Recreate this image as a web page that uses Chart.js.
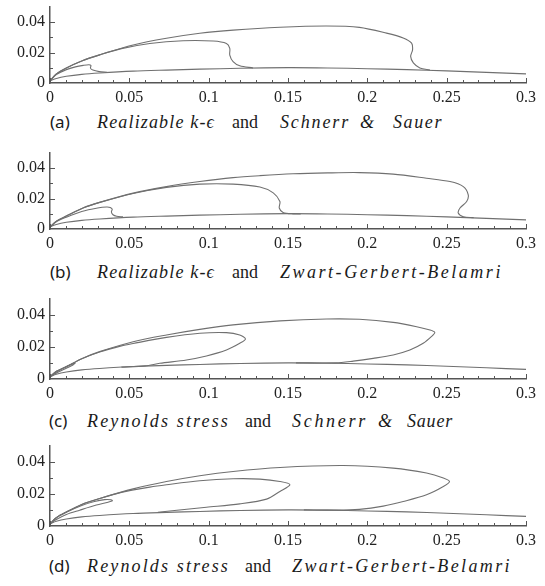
<!DOCTYPE html>
<html><head><meta charset="utf-8">
<script src="https://cdn.jsdelivr.net/npm/chart.js@4.4.1/dist/chart.umd.min.js"></script>
<style>
body{margin:0;background:#fff;}
#wrap{position:relative;width:545px;height:586px;overflow:hidden;background:#fff;}
canvas{position:absolute;left:0;}
.cap{position:absolute;height:22px;line-height:22px;white-space:nowrap;color:#1a1a1a;}
.lab{font-family:'Noto Sans';font-size:17px;}
.it{font-family:'Liberation Serif';font-style:italic;font-size:18px;}
.rm{font-family:'Liberation Serif';font-size:18px;}
</style></head><body><div id="wrap">
<div class="cap lab" style="left:50px;top:110.5px">(a)</div>
<div class="cap it" data-w="118" style="left:97px;top:110.5px">Realizable k-ϵ</div>
<div class="cap rm" style="left:232px;top:110.5px">and</div>
<div class="cap it" data-w="70" style="left:280px;top:110.5px">Schnerr</div>
<div class="cap it" data-w="16" style="left:360px;top:110.5px">&amp;</div>
<div class="cap it" data-w="50" style="left:393px;top:110.5px">Sauer</div>

<div class="cap lab" style="left:50px;top:261px">(b)</div>
<div class="cap it" data-w="118" style="left:97px;top:261px">Realizable k-ϵ</div>
<div class="cap rm" style="left:232px;top:261px">and</div>
<div class="cap it" data-w="223" style="left:280px;top:261px">Zwart-Gerbert-Belamri</div>

<div class="cap lab" style="left:49px;top:410px">(c)</div>
<div class="cap it" data-w="143" style="left:87px;top:410px">Reynolds stress</div>
<div class="cap rm" style="left:245px;top:410px">and</div>
<div class="cap it" data-w="76" style="left:292px;top:410px">Schnerr</div>
<div class="cap it" data-w="15" style="left:378px;top:410px">&amp;</div>
<div class="cap it" data-w="46" style="left:407px;top:410px">Sauer</div>

<div class="cap lab" style="left:49px;top:555px">(d)</div>
<div class="cap it" data-w="143" style="left:87px;top:555px">Reynolds stress</div>
<div class="cap rm" style="left:245px;top:555px">and</div>
<div class="cap it" data-w="220" style="left:292px;top:555px">Zwart-Gerbert-Belamri</div>
</div>
<script>
// ---------- axis ticks ----------
const xTickValues = [0, 0.05, 0.1, 0.15, 0.2, 0.25, 0.3];
const xTickLabels = ["0", "0.05", "0.1", "0.15", "0.2", "0.25", "0.3"];
const xMinorValues = [0.01,0.02,0.03,0.04,0.06,0.07,0.08,0.09,0.11,0.12,0.13,0.14,0.16,0.17,0.18,0.19,0.21,0.22,0.23,0.24,0.26,0.27,0.28,0.29];
const yTickValues = [0, 0.02, 0.04];
const yTickLabels = ["0", "0.02", "0.04"];
const yMinorValues = [0.01, 0.03];

// ---------- hydrofoil suction side (shared) ----------
const foil = [[0,0.0014],[0.004,0.003],[0.0103,0.0044],[0.02,0.0057],[0.0313,0.0066],[0.0524,0.0078],[0.0734,0.0085],[0.0944,0.0091],[0.12,0.0097],[0.15,0.0101],[0.175,0.0099],[0.2,0.0094],[0.225,0.0088],[0.25,0.008],[0.275,0.007],[0.3,0.006]];

// ---------- (a) Realizable k-e + Schnerr & Sauer ----------
const aOuter = [[0,0.0014],[0.004,0.006],[0.0103,0.0099],[0.02,0.0145],[0.0313,0.0185],[0.0524,0.025],[0.0734,0.0294],[0.0944,0.0327],[0.1154,0.0348],[0.145,0.0367],[0.1743,0.0375],[0.195,0.0366],[0.2121,0.0328],[0.2226,0.0296],[0.2279,0.0262],[0.2285,0.0218],[0.2273,0.0175],[0.229,0.0132],[0.2331,0.0099],[0.2395,0.0085]];
const aMid = [[0,0.0014],[0.004,0.006],[0.0103,0.0099],[0.02,0.0145],[0.0313,0.0185],[0.045,0.0226],[0.0629,0.026],[0.0839,0.0278],[0.1028,0.0276],[0.1112,0.026],[0.1133,0.0228],[0.1133,0.0184],[0.1154,0.0141],[0.1196,0.0113],[0.128,0.0099]];
const aSmall = [[0,0.0014],[0.004,0.0055],[0.0103,0.0088],[0.016,0.0106],[0.021,0.0116],[0.0245,0.012],[0.0258,0.0115],[0.0255,0.0098],[0.027,0.0085],[0.031,0.0075],[0.036,0.0071]];

// ---------- (b) Realizable k-e + Zwart-Gerbert-Belamri ----------
const bOuter = [[0,0.0013],[0.004,0.0052],[0.0103,0.0085],[0.0208,0.0138],[0.0313,0.0175],[0.0524,0.0236],[0.0734,0.0279],[0.0944,0.0312],[0.1154,0.0338],[0.1323,0.0351],[0.1532,0.0363],[0.175,0.0369],[0.195,0.0371],[0.2163,0.0361],[0.2373,0.0334],[0.2521,0.0312],[0.2605,0.0279],[0.2636,0.0225],[0.2626,0.0181],[0.2584,0.0138],[0.2573,0.0105],[0.2605,0.0081],[0.267,0.0075]];
const bMid = [[0,0.0013],[0.004,0.0052],[0.0103,0.0085],[0.0208,0.0138],[0.0313,0.0175],[0.0524,0.0234],[0.0734,0.0274],[0.0944,0.0295],[0.1154,0.0295],[0.1323,0.0276],[0.1407,0.0238],[0.1449,0.0181],[0.1445,0.0138],[0.1469,0.0109],[0.1532,0.0099],[0.158,0.0099]];
const bSmall = [[0,0.0013],[0.004,0.0048],[0.0103,0.0078],[0.02,0.0115],[0.03,0.0138],[0.0356,0.0145],[0.038,0.0142],[0.0392,0.013],[0.0387,0.0112],[0.0397,0.0094],[0.042,0.0084],[0.046,0.008]];

// ---------- (c) Reynolds stress + Schnerr & Sauer ----------
const cOuter = [[0,0.0014],[0.004,0.0048],[0.0103,0.0077],[0.02,0.0127],[0.0313,0.0171],[0.0524,0.0233],[0.0734,0.0275],[0.0944,0.031],[0.1154,0.0338],[0.145,0.0363],[0.1743,0.0375],[0.195,0.0373],[0.2163,0.0354],[0.2311,0.0327],[0.2395,0.0306],[0.2425,0.0291],[0.2405,0.0266],[0.2352,0.0223],[0.2268,0.0181],[0.2163,0.015],[0.2037,0.0129],[0.1911,0.0112],[0.18,0.0101],[0.155,0.0101]];
const cMid = [[0,0.0014],[0.004,0.0048],[0.0103,0.0077],[0.02,0.0127],[0.0313,0.0169],[0.045,0.0207],[0.0524,0.0222],[0.0734,0.026],[0.0944,0.0286],[0.1112,0.029],[0.1196,0.0275],[0.1232,0.025],[0.1196,0.0223],[0.1112,0.0181],[0.0986,0.0144],[0.086,0.0119],[0.0692,0.0098],[0.06,0.0082],[0.045,0.0074]];
const cSmall = [[0,0.0014],[0.004,0.0045],[0.009,0.0072],[0.0135,0.0092],[0.0158,0.0099],[0.0145,0.0088],[0.01,0.0066],[0.005,0.0042],[0.002,0.0025],[0,0.0014]];

// ---------- (d) Reynolds stress + Zwart-Gerbert-Belamri ----------
const dOuter = [[0,0.0013],[0.004,0.0052],[0.0103,0.0088],[0.02,0.0135],[0.0313,0.0172],[0.0524,0.0232],[0.0734,0.0278],[0.0944,0.0314],[0.1154,0.0341],[0.145,0.0366],[0.1848,0.0378],[0.2163,0.0362],[0.2373,0.0331],[0.2479,0.03],[0.2518,0.0278],[0.2479,0.0247],[0.2373,0.0195],[0.2226,0.0153],[0.21,0.0124],[0.195,0.0104],[0.18,0.0099],[0.16,0.0101]];
const dMid = [[0,0.0013],[0.004,0.0052],[0.0103,0.0088],[0.02,0.0135],[0.0313,0.0172],[0.045,0.021],[0.0629,0.0243],[0.0734,0.0258],[0.0944,0.0283],[0.1154,0.0295],[0.1323,0.0293],[0.1449,0.0278],[0.1512,0.0258],[0.1449,0.0216],[0.1365,0.0168],[0.1196,0.0138],[0.0986,0.0117],[0.08,0.0098],[0.068,0.0086]];
const dSmall = [[0,0.0013],[0.004,0.0052],[0.0103,0.0086],[0.02,0.0128],[0.028,0.0153],[0.0345,0.0165],[0.0385,0.0164],[0.0393,0.0158],[0.0366,0.0149],[0.0292,0.0131],[0.0187,0.0099],[0.0103,0.0072],[0.004,0.004],[0,0.0013]];

// ---------- layout ----------
const panels = [
  {areaTop:7,   areaH:76, curves:[foil,aOuter,aMid,aSmall]},
  {areaTop:153, areaH:76, curves:[foil,bOuter,bMid,bSmall]},
  {areaTop:299, areaH:80, curves:[foil,cOuter,cMid,cSmall]},
  {areaTop:446, areaH:80, curves:[foil,dOuter,dMid,dSmall]}
];

const tickFont = {family:"'Liberation Serif'", size:16};

const inTicks = {
  id:'inTicks',
  afterDraw(chart){
    const {ctx, chartArea:a, scales:{x,y}} = chart;
    ctx.save();
    ctx.strokeStyle = '#555'; ctx.lineWidth = 1;
    ctx.beginPath();
    const xt = (vals,len)=>vals.forEach(v=>{const p=Math.round(x.getPixelForValue(v))+0.5; ctx.moveTo(p,a.bottom); ctx.lineTo(p,a.bottom-len);});
    const yt = (vals,len)=>vals.forEach(v=>{const p=Math.round(y.getPixelForValue(v))+0.5; ctx.moveTo(a.left,p); ctx.lineTo(a.left+len,p);});
    xt(xTickValues,5); xt(xMinorValues,3);
    yt(yTickValues.filter(v=>v>0),5); yt(yMinorValues,3);
    ctx.stroke();
    ctx.restore();
  }
};

const wrap = document.getElementById('wrap');
const padTop = 6, xAxisH = 30;

// fit italic caption widths
document.querySelectorAll('.cap[data-w]').forEach(s=>{
  const nat = s.getBoundingClientRect().width;
  const w = +s.dataset.w;
  s.style.letterSpacing = ((w-nat)/s.textContent.length).toFixed(2)+'px';
});

panels.forEach(p=>{
  const cv = document.createElement('canvas');
  cv.width = 545; cv.height = padTop + p.areaH + xAxisH;
  cv.style.top = (p.areaTop - padTop) + 'px';
  wrap.appendChild(cv);
  new Chart(cv, {
    type:'line',
    data:{datasets:p.curves.map(c=>({
      data:c.map(([x,y])=>({x,y})),
      borderColor:'#707070', borderWidth:1.1, pointRadius:0, tension:0.3, fill:false
    }))},
    options:{
      responsive:false, animation:false, events:[],
      layout:{padding:{top:padTop,right:19,left:0,bottom:0}},
      plugins:{legend:{display:false},tooltip:{enabled:false}},
      scales:{
        x:{type:'linear',min:0,max:0.3,
          afterBuildTicks:s=>{s.ticks=xTickValues.map(v=>({value:v}));},
          afterFit:s=>{s.height=xAxisH;s.paddingLeft=0;s.paddingRight=0;},
          grid:{display:false,drawTicks:false},
          border:{display:true,color:'#555',width:1.5},
          ticks:{padding:5,color:'#222',font:tickFont,maxRotation:0,autoSkip:false,
            callback:(v,i)=>xTickLabels[i]}},
        y:{type:'linear',min:0,max:0.05,
          afterBuildTicks:s=>{s.ticks=yTickValues.map(v=>({value:v}));},
          afterFit:s=>{s.width=50;s.paddingTop=0;s.paddingBottom=0;},
          grid:{display:false,drawTicks:false},
          border:{display:true,color:'#555',width:1.5},
          ticks:{padding:5,color:'#222',font:tickFont,autoSkip:false,
            callback:(v,i)=>yTickLabels[i]}}
      }
    },
    plugins:[inTicks]
  });
});
</script></body></html>
